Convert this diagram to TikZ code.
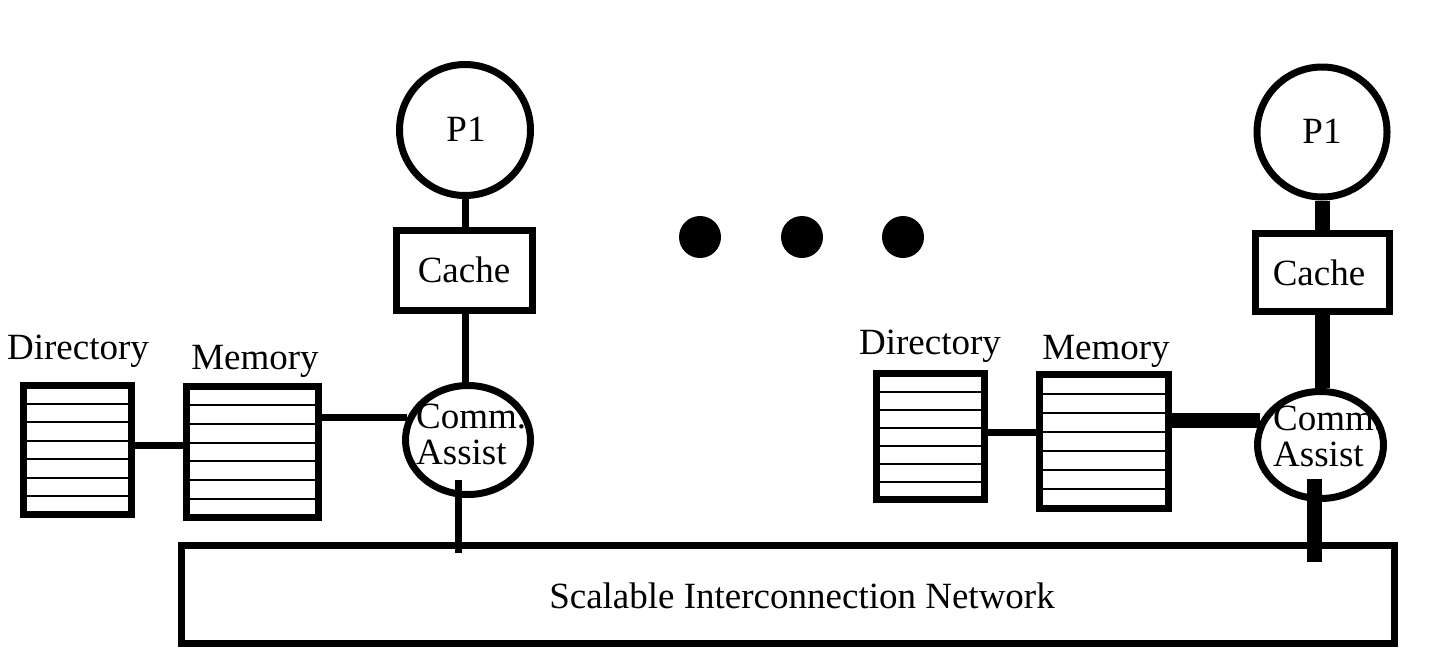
\documentclass[tikz,border=0pt]{standalone}
\usepackage{fontspec}
\setmainfont{Liberation Serif}
\usetikzlibrary{calc,shapes.geometric}
\tikzset{
  txt/.style={font=\fontsize{37pt}{36pt}\selectfont, inner sep=0pt},
  boxed/.style={draw, line width=7pt, rectangle, inner sep=0pt},
  proc/.style={draw, line width=7pt, circle, inner sep=0pt},
  assist/.style={draw, line width=7pt, ellipse, inner sep=0pt},
  rows/.style={path picture={
     \foreach \i in {1,...,6}{
       \draw[line width=2pt] ($(path picture bounding box.north west)!\i/7!(path picture bounding box.south west)$)
          -- ($(path picture bounding box.north east)!\i/7!(path picture bounding box.south east)$);
     }}},
  thin/.style={line width=7pt},
  thick/.style={line width=15pt},
  dot/.style={circle, fill, inner sep=0pt, minimum size=42pt},
}
\begin{document}
\begin{tikzpicture}[x=1pt,y=-1pt]
\useasboundingbox (0,0) rectangle (1430,670);

% ---------------- left node ----------------
\node[proc, minimum size=131pt] (p1a) at (465,130) {};
\node[txt, anchor=base] (p1atxt) at (466,141) {P1};
\node[boxed, minimum width=136pt, minimum height=80pt] (cachea) at (464,270) {};
\node[txt, anchor=base] (cacheatxt) at (464,282) {Cache};
\node[txt, anchor=west, align=left] (caatxt) at (416,434) {Comm.\\Assist};
\node[assist, minimum width=125pt, minimum height=109pt] (caa) at (468,440) {};
\node[boxed, rows, minimum width=108pt, minimum height=129pt] (dira) at (77.5,450) {};
\node[txt, anchor=base] (diratxt) at (78,359) {Directory};
\node[boxed, rows, minimum width=132pt, minimum height=131pt] (mema) at (252.5,452) {};
\node[txt, anchor=base] (rematxt) at (255,369) {Memory};

\draw[thin] (p1a.south) -- (p1a.south |- cachea.north);
\draw[thin] (p1a.south |- cachea.south) -- (p1a.south |- caa.north);
\draw[thin] (mema.east |- caa.160) -- (caa.160);
\draw[thin] (dira.east |- 0,445) -- (mema.west |- 0,445);
\coordinate (ta) at (458,480);
\coordinate (tb) at (458,553);
\draw[thin] (ta) -- (tb);

% ---------------- dots ----------------
\node[dot] (d1) at (700,237) {};
\node[dot] (d2) at (802,237) {};
\node[dot] (d3) at (903,237) {};

% ---------------- right node ----------------
\node[proc, minimum size=130pt] (p1b) at (1322,132) {};
\node[txt, anchor=base] (p1btxt) at (1322,143) {P1};
\node[boxed, minimum width=134pt, minimum height=78pt] (cacheb) at (1322.5,272.5) {};
\node[txt, anchor=base] (cachebtxt) at (1319,285) {Cache};
\node[txt, anchor=west, align=left] (cabtxt) at (1273,436) {Comm.\\Assist};
\node[assist, minimum width=126pt, minimum height=107pt] (cab) at (1320.5,445) {};
\node[boxed, rows, minimum width=108pt, minimum height=126pt] (dirb) at (930.5,436.5) {};
\node[txt, anchor=base] (dirbtxt) at (930,354) {Directory};
\node[boxed, rows, minimum width=129pt, minimum height=134pt] (memb) at (1104,441.5) {};
\node[txt, anchor=base] (membtxt) at (1106,359) {Memory};

\draw[thick] (p1b.south) -- (p1b.south |- cacheb.north);
\draw[thick] (p1b.south |- cacheb.south) -- (p1b.south |- cab.north);
\draw[thick] (memb.east |- cab.158) -- (cab.158);
\draw[thin] (dirb.east |- 0,432) -- (memb.west |- 0,432);
\coordinate (tc) at (1314.5,479);
\coordinate (td) at (1314.5,562);
\draw[thick] (tc) -- (td);

% ---------------- network ----------------
\node[boxed, minimum width=1213pt, minimum height=98pt] (net) at (788,594.5) {};
\node[txt, anchor=base] (nettxt) at (802,608) {Scalable Interconnection Network};
\end{tikzpicture}
\end{document}
